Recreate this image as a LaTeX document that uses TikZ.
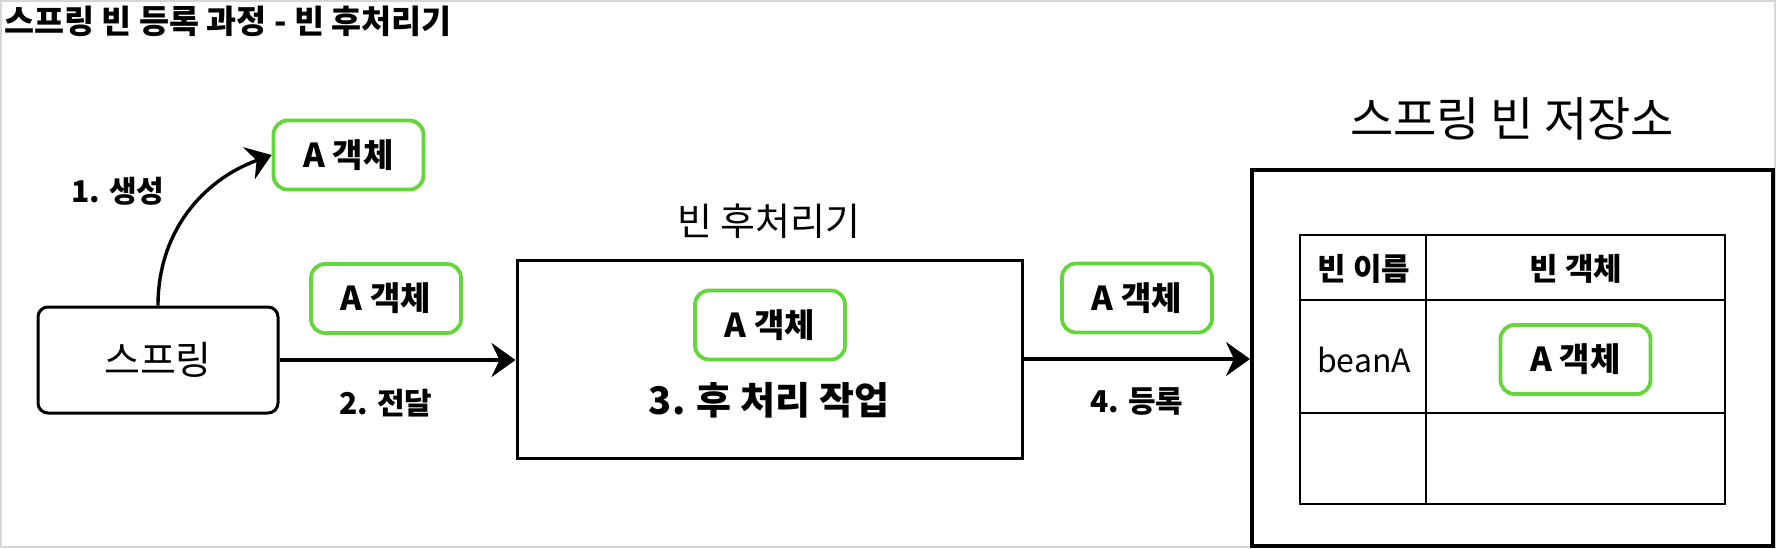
\documentclass[tikz,border=0pt]{standalone}
\usepackage{fontspec}
\setmainfont{Noto Sans CJK KR}
\usepackage{xcolor}
\usetikzlibrary{arrows.meta,positioning,calc}
\definecolor{objgreen}{RGB}{98,214,58}
\definecolor{framegray}{RGB}{214,214,214}
\tikzset{
  blk/.style={draw=black, line width=1.5pt, inner sep=0pt},
  obj/.style={draw=objgreen, line width=1.9pt, rounded corners=7pt, minimum width=75pt, minimum height=34.5pt,
              inner sep=0pt, font=\fontsize{16.5}{20}\selectfont\bfseries},
  sig/.style={-{Stealth[length=12pt, width=17pt, inset=4pt]}, line width=1.7pt, draw=black},
  lab/.style={font=\fontsize{15}{18}\selectfont\bfseries, inner sep=1.5pt},
  head/.style={font=\fontsize{19}{23}\selectfont, inner sep=0pt},
  cell/.style={font=\fontsize{15.5}{18}\selectfont\bfseries, inner sep=0pt},
}

\begin{document}
\begin{tikzpicture}[x=0.5pt, y=-0.5pt]
    \useasboundingbox (0,0) rectangle (1776,548);
    \draw[framegray, line width=1pt] (1,1) rectangle (1775,547);
    \node[anchor=west, inner sep=0pt, font=\fontsize{16.3}{19}\selectfont\bfseries] (title) at (4,21.5) {스프링 빈 등록 과정 - 빈 후처리기};
    % spring and the new object
    \node[blk, rounded corners=5pt, minimum width=120pt, minimum height=53pt, font=\fontsize{19.5}{23}\selectfont] (spring) at (158,360) {스프링};
    \node[obj] (objA) at (348.5,155) {A 객체};
    \node[obj] (objB) at (386,298.5) {A 객체};
    % post processor
    \node[head] (proctitle) at (769,221) {빈 후처리기};
    \node[blk, minimum width=252.5pt, minimum height=99pt] (proc) at (769.5,359) {};
    \node[obj] (objC) at (770,325) {A 객체};
    \node[font=\fontsize{19}{23}\selectfont\bfseries, inner sep=0pt] (work) at (769,400) {3. 후 처리 작업};
    \node[obj] (objE) at (1137,298) {A 객체};
    % bean store
    \node[head, font=\fontsize{23.5}{28}\selectfont] (storetitle) at (1512,119) {스프링 빈 저장소};
    \node[blk, line width=2pt, minimum width=260.5pt, minimum height=188pt] (store) at (1512.5,358) {};
    \node[draw, line width=1pt, minimum width=212.5pt, minimum height=134.5pt, inner sep=0pt] (tbl) at (1512.5,369.5) {};
    \draw[line width=0.7pt] ($(tbl.north west)+(127,0)$) -- ($(tbl.south west)+(127,0)$);
    \draw[line width=1.3pt] ($(tbl.north west)+(0,66)$) -- ($(tbl.north east)+(0,66)$);
    \draw[line width=0.7pt] ($(tbl.north west)+(0,179)$) -- ($(tbl.north east)+(0,179)$);
    \node[cell] (hname) at (1364,269) {빈 이름};
    \node[cell] (hobj) at (1576,269) {빈 객체};
    \node[font=\fontsize{16}{19}\selectfont, inner sep=0pt] (beanname) at (1364,360) {beanA};
    \node[obj] (objD) at (1575.5,359.5) {A 객체};
    % flow
    \draw[sig] (spring.north) to[out=90, in=200] node[lab, left=20pt, pos=0.65] {1. 생성} (objA.west);
    \draw[sig] (spring.east) -- node[lab, below=12pt, pos=0.45] {2. 전달} (spring.east -| proc.west);
    \draw[sig] (proc.east) -- node[lab, below=12pt]{4. 등록} (proc.east -| store.west);
\end{tikzpicture}
\end{document}
